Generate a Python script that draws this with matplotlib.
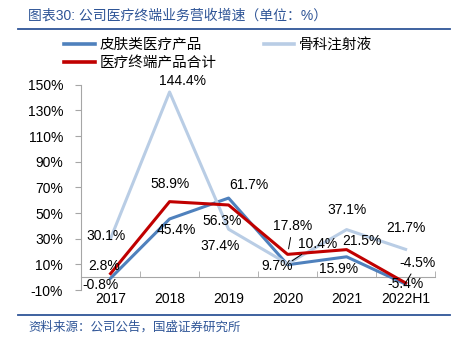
#!/usr/bin/env python3
"""Growth rate of the company's medical terminal business, by product line."""

import matplotlib

matplotlib.use("Agg")
import matplotlib.pyplot as plt
from matplotlib.lines import Line2D

plt.rcParams["font.family"] = ["Liberation Sans", "Noto Sans CJK SC"]

years = ["2017", "2018", "2019", "2020", "2021", "2022H1"]
skin = [-0.8, 45.4, 61.7, 9.7, 15.9, -5.4]
ortho = [30.1, 144.4, 37.4, 10.4, 37.1, 21.7]
total = [2.8, 58.9, 56.3, 17.8, 21.5, -4.5]
series_names = ["皮肤类医疗产品", "骨科注射液", "医疗终端产品合计"]

title = "图表30: 公司医疗终端业务营收增速（单位：%）"
source = "资料来源：公司公告，国盛证券研究所"

BLUE = "#4F81BD"
LIGHT = "#B9CDE5"
RED = "#C00000"
NAVY = "#2F5597"

# label offsets in pixels (dx, dy) relative to each point
skin_off = [(-10, -7), (7, -11), (20, 13), (-10, -1), (-8, -12), (0, 0)]
ortho_off = [(-5, 3), (13, 11), (-8, -17), (30, 20), (0, 20), (0, 21)]
total_off = [(-6, 8), (0, 18), (-6, -16), (5, 28), (15, 9), (12, 20)]


def main() -> None:
    fig = plt.figure(figsize=(4.58, 3.38), dpi=100)
    ax = fig.add_axes([0.177, 0.142, 0.773, 0.607])

    x = list(range(len(years)))
    ax.plot(x, skin, color=BLUE, lw=2.2, zorder=3)
    ax.plot(x, ortho, color=LIGHT, lw=2.2, zorder=3)
    ax.plot(x, total, color=RED, lw=2.2, zorder=4)

    leaders = {(1, 3), (2, 3), (2, 5)}
    for s, (vals, offs) in enumerate([(skin, skin_off), (ortho, ortho_off), (total, total_off)]):
        for i, (v, (dx, dy)) in enumerate(zip(vals, offs)):
            props = None
            if (s, i) in leaders:
                props = dict(arrowstyle="-", color="black", lw=0.7, shrinkA=1, shrinkB=4)
            ax.annotate(f"{v:.1f}%", xy=(i, v), xytext=(dx, dy),
                        textcoords="offset pixels", ha="center", va="center",
                        fontsize=10, color="black", zorder=6, arrowprops=props)

    ax.set_xlim(-0.5, len(years) - 0.5)
    ax.set_ylim(-10, 150)
    ax.set_yticks(range(-10, 151, 20))
    ax.set_yticklabels([f"{t}%" for t in range(-10, 151, 20)], fontsize=10)
    ax.set_xticks(x)
    ax.set_xticklabels(years, fontsize=10)
    ax.set_xticks([i + 0.5 for i in x], minor=True)

    for side in ("top", "right"):
        ax.spines[side].set_visible(False)
    ax.spines["left"].set_color("#A6A6A6")
    ax.spines["bottom"].set_color("#A6A6A6")
    ax.spines["bottom"].set_position(("data", 0))
    ax.tick_params(axis="y", direction="out", length=4, color="#A6A6A6", pad=9)
    ax.tick_params(axis="x", which="major", length=0, pad=11)
    ax.tick_params(axis="x", which="minor", direction="in", length=4, color="#A6A6A6")

    handles = [Line2D([], [], color=c, lw=2.6) for c in (BLUE, RED, LIGHT)]
    labels = [series_names[0], series_names[2], series_names[1]]
    fig.legend(handles, labels, loc="upper left", bbox_to_anchor=(0.14, 0.887),
               ncol=2, frameon=False, fontsize=10.5, handlelength=2.1,
               handletextpad=0.35, columnspacing=3.2, borderpad=0,
               borderaxespad=0, labelspacing=0.25)

    fig.text(0.061, 0.955, title, color=NAVY, fontsize=10, ha="left", va="center")
    fig.add_artist(Line2D([0.04, 0.983], [0.913, 0.913], color=NAVY, lw=1.3))
    fig.add_artist(Line2D([0.04, 0.983], [0.068, 0.068], color=NAVY, lw=1.3))
    fig.text(0.061, 0.03, source, color=NAVY, fontsize=9, ha="left", va="center")

    fig.savefig("out.png", dpi=100)
    plt.close(fig)


if __name__ == "__main__":
    main()
